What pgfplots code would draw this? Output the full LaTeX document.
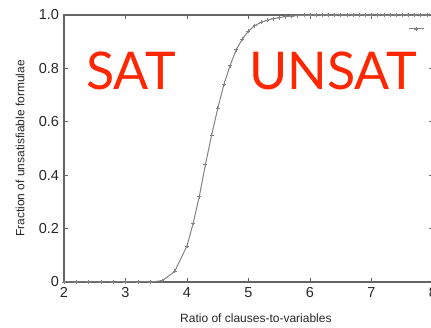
\documentclass[border=0pt]{standalone}
\usepackage{fontspec}
\setmainfont{Liberation Sans}
\newfontfamily\satfont{Lato}
\usepackage{pgfplots}
\pgfplotsset{compat=1.18}
\definecolor{satred}{RGB}{255,38,0}
\definecolor{axgray}{RGB}{100,100,100}
\definecolor{curvegray}{RGB}{130,130,130}
\pgfplotstableread{
x y
2.0 0
2.2 0
2.4 0
2.6 0
2.8 0
3.0 0
3.2 0
3.4 0
3.6 0.005
3.8 0.04
4.0 0.135
4.1 0.22
4.2 0.32
4.3 0.44
4.4 0.55
4.5 0.65
4.6 0.74
4.7 0.81
4.8 0.87
4.9 0.91
5.0 0.94
5.1 0.96
5.2 0.972
5.3 0.980
5.4 0.986
5.5 0.990
5.6 0.994
5.7 0.996
5.8 0.998
5.9 0.999
6.0 1
6.1 1
6.2 1
6.3 1
6.4 1
6.5 1
6.6 1
6.7 1
6.8 1
6.9 1
7.0 1
7.1 1
7.2 1
7.3 1
7.4 1
7.5 1
7.6 1
7.7 1
7.8 1
7.9 1
8.0 1
}\datatable
\begin{document}
\begin{tikzpicture}[x=1pt,y=1pt]
\begin{axis}[
  at={(64pt,46pt)}, anchor=south west,
  width=369pt, height=267pt, scale only axis,
  xmin=2, xmax=8, ymin=0, ymax=1,
  xtick={2,3,4,5,6,7,8},
  ytick={0,0.2,0.4,0.6,0.8,1.0},
  yticklabels={0,0.2,0.4,0.6,0.8,1.0},
  tick align=inside, major tick length=4pt,
  axis line style={axgray, line width=1.5pt},
  tick style={axgray, line width=0.6pt},
  /pgf/number format/assume math mode=true,
  ticklabel style={font=\fontsize{14.5}{16}\selectfont, text=black!85},
  xticklabel style={yshift=-1.5pt},
  yticklabel style={xshift=-1.5pt},
  xlabel={Ratio of clauses-to-variables},
  ylabel={Fraction of unsatisfiable formulae},
  label style={font=\fontsize{12}{14}\selectfont, text=black!85},
  xlabel style={at={(axis description cs:0.52,-0.135)}, anchor=center},
  ylabel style={at={(axis description cs:-0.119,0.5)}, anchor=center},
  legend style={at={(axis description cs:0.932,0.948)}, anchor=west, draw=none, fill=none, inner sep=0pt},
  legend image code/.code={\draw[mark repeat=2,mark phase=2,#1] plot coordinates {(0pt,0pt)(7.5pt,0pt)(15pt,0pt)};},
]
\addplot[curvegray, line width=1pt, mark=+, mark size=2pt, mark options={line width=0.5pt}] table[x=x,y=y] {\datatable};
\addlegendentry{}
\end{axis}
\node[anchor=base west, text=satred, font=\satfont\fontsize{52}{52}\selectfont, inner sep=0pt] at (86,238) {SAT};
\node[anchor=base west, text=satred, font=\satfont\fontsize{52}{52}\selectfont, inner sep=0pt] at (249,238) {UNSAT};
\pgfresetboundingbox
\path (0,0) rectangle (431,328);
\end{tikzpicture}
\end{document}
